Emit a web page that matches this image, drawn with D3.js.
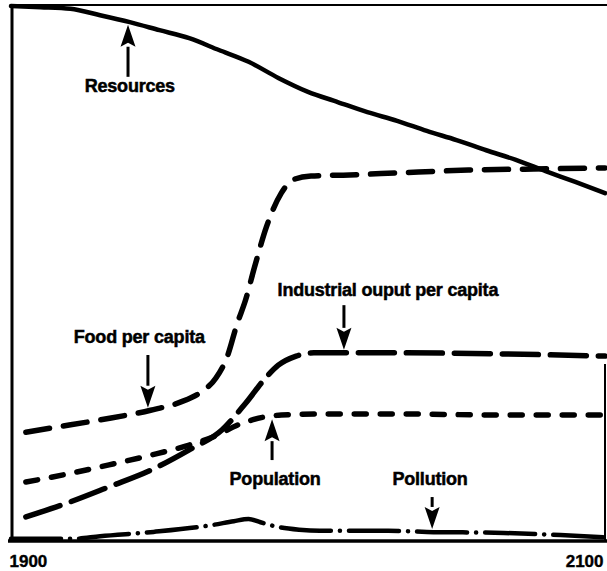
<!DOCTYPE html>
<html>
<head>
<meta charset="utf-8">
<script src="https://cdn.jsdelivr.net/npm/d3@7"></script>
<style>
  html, body { margin: 0; padding: 0; background: #fff; }
  svg { display: block; }
  text { font-family: "Liberation Sans", Arial, Helvetica, sans-serif; font-weight: bold; fill: #000; }
</style>
</head>
<body>
<svg id="chart" width="607" height="571"></svg>
<script>
// ---- Data (relative units, 0 = baseline, 100 = top of frame) ----
const resourcesYears  = [1900,1910,1920,1930,1940,1950,1960,1970,1980,1990,2000,2010,2020,2030,2040,2050,2060,2070,2080,2090,2100];
const resourcesValues = [99.8,99.6,99.3,98.1,96.8,95.3,93.8,91.6,89.4,86.4,83.8,81.9,80.0,78.4,76.5,74.8,72.9,71.1,69.0,67.0,64.9];

const foodYears  = [1905,1916,1930,1947,1957,1964,1969,1973,1976,1979,1982,1986,1991,1995,2001,2014,2031,2054,2076,2100];
const foodValues = [20.3,21.3,22.6,24.4,25.9,27.8,30.4,34.7,40.3,45.0,51.1,58.6,64.9,67.4,68.1,68.3,68.7,69.2,69.4,69.6];

const industryYears  = [1905,1919,1933,1947,1960,1971,1979,1986,1990,1996,2002,2031,2065,2100];
const industryValues = [4.5,7.1,10.1,13.2,17.0,20.7,25.7,30.6,32.8,34.5,35.1,35.1,34.9,34.5];

const populationYears  = [1905,1919,1933,1947,1960,1968,1977,1985,1991,2007,2031,2065,2100];
const populationValues = [11.0,12.5,14.2,16.0,17.9,19.4,21.8,23.1,23.5,23.7,23.7,23.5,23.5];

const pollutionYears  = [1900,1921,1930,1948,1968,1975,1980,1984,1990,1997,2004,2027,2040,2066,2085,2100];
const pollutionValues = [0.4,0.4,0.9,1.7,3.0,3.7,4.1,3.5,2.6,2.1,1.9,1.9,1.7,1.5,1.1,0.7];

const tickYears = [1900, 2100];

// annotation labels: text, arrow year, arrow tail value, label position
const labelTexts  = ["Resources", "Food per capita", "Industrial ouput per capita", "Population", "Pollution"];
const arrowYears  = [1939.4, 1946.1, 2012.1, 1987.9, 2041.8];
const arrowTails  = [86.6, 34.7, 44.0, 15.1, 8.2];
const labelYears  = [1940, 1943.2, 2026.9, 1988.9, 2041.1];
const labelValues = [83.8, 36.9, 45.7, 10.4, 10.4];

// ---- Drawing ----
const svg = d3.select("#chart");
const x = d3.scaleLinear().domain([1900, 2100]).range([11, 605]);
const y = d3.scaleLinear().domain([0, 100]).range([541, 5]);

// frame
svg.append("line").attr("x1", x(1900) + 1).attr("x2", x(1900) + 1).attr("y1", y(100)).attr("y2", y(0))
  .attr("stroke", "#000").attr("stroke-width", 3);
svg.append("line").attr("x1", x(1900)).attr("x2", 607).attr("y1", y(100)).attr("y2", y(100))
  .attr("stroke", "#000").attr("stroke-width", 2);
svg.append("line").attr("x1", x(2100)).attr("x2", x(2100)).attr("y1", y(33)).attr("y2", y(0))
  .attr("stroke", "#000").attr("stroke-width", 2);

const series = [
  {name: "resources",  years: resourcesYears,  values: resourcesValues,  dash: null,          width: 4.5},
  {name: "food",       years: foodYears,       values: foodValues,       dash: "24,14",       width: 5.5},
  {name: "industry",   years: industryYears,   values: industryValues,   dash: "36,12",       width: 5.5},
  {name: "population", years: populationYears, values: populationValues, dash: "12,14",       width: 5.5},
  {name: "pollution",  years: pollutionYears,  values: pollutionValues,  dash: "50,9,0.1,9",  width: 4.5}
];

const line = d3.line().x(d => x(d[0])).y(d => y(d[1])).curve(d3.curveMonotoneX);

series.forEach(s => {
  const pts = s.years.map((yr, i) => [yr, s.values[i]]);
  svg.append("path")
    .attr("d", line(pts))
    .attr("fill", "none")
    .attr("stroke", "#000")
    .attr("stroke-width", s.width)
    .attr("stroke-linecap", "round")
    .attr("stroke-linejoin", "round")
    .attr("stroke-dasharray", s.dash);
});

// bottom axis
const axis = d3.axisBottom(x).tickValues(tickYears).tickSize(0).tickPadding(14).tickFormat(d3.format("d"));
const gAxis = svg.append("g").attr("transform", `translate(0,${y(0)})`).call(axis);
gAxis.select(".domain").remove();
gAxis.selectAll("text")
  .style("font-size", "17px")
  .style("font-family", "\"Liberation Sans\", Arial, sans-serif")
  .style("font-weight", "bold")
  .attr("fill", "#000")
  .attr("stroke", "#000")
  .attr("stroke-width", 0.4)
  .attr("text-anchor", (d, i) => i === 0 ? "start" : "end")
  .attr("dx", -2);
svg.append("line").attr("x1", 8).attr("x2", 607).attr("y1", y(0)).attr("y2", y(0))
  .attr("stroke", "#000").attr("stroke-width", 3.5);

// interpolate series values for arrow tips
function valueAt(s, yr) {
  const i = d3.bisectRight(s.years, yr);
  if (i <= 0) return s.values[0];
  if (i >= s.years.length) return s.values[s.years.length - 1];
  const t = (yr - s.years[i - 1]) / (s.years[i] - s.years[i - 1]);
  return s.values[i - 1] + t * (s.values[i] - s.values[i - 1]);
}

labelTexts.forEach((txt, i) => {
  const s = series[i];
  const ax = x(arrowYears[i]);
  const tailY = y(arrowTails[i]);
  const tipVal = valueAt(s, arrowYears[i]);
  const dirDown = arrowTails[i] > tipVal;
  const tipY = y(tipVal) + (dirDown ? -3 : 3);
  const headLen = 22, headHalf = 7.5;
  const baseY = dirDown ? tipY - headLen : tipY + headLen;
  svg.append("line").attr("x1", ax).attr("x2", ax).attr("y1", tailY).attr("y2", baseY)
    .attr("stroke", "#000").attr("stroke-width", 3);
  svg.append("path")
    .attr("d", `M${ax},${tipY} L${ax - headHalf},${baseY} L${ax},${baseY + (dirDown ? 4 : -4)} L${ax + headHalf},${baseY} Z`)
    .attr("fill", "#000");
  svg.append("text")
    .attr("x", x(labelYears[i]))
    .attr("y", y(labelValues[i]))
    .attr("text-anchor", "middle")
    .attr("stroke", "#000")
    .attr("stroke-width", 0.5)
    .style("font-size", "18px")
    .style("letter-spacing", "-0.2px")
    .text(txt);
});
</script>
</body>
</html>
